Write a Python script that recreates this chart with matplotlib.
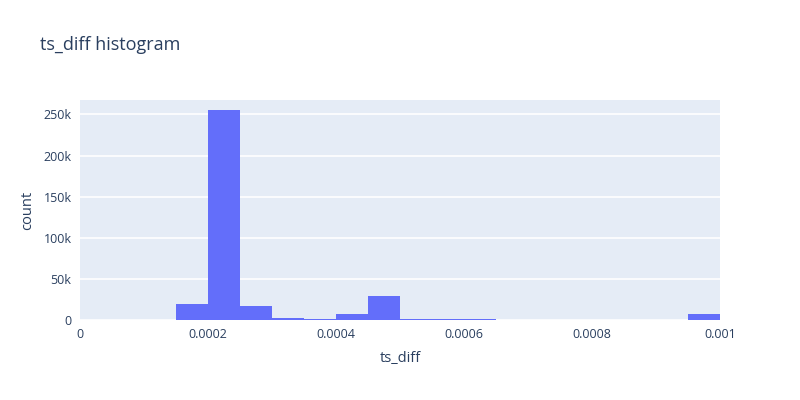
import numpy as np
import matplotlib.pyplot as plt
from matplotlib.ticker import FuncFormatter

# histogram bins (ts_diff) and counts
bin_edges = [i * 0.00005 for i in range(21)]
counts = [0, 0, 500, 20000, 255000, 17500, 2900, 1600, 7800, 28600,
          1500, 1500, 1400, 500, 500, 500, 500, 500, 500, 7800]

x_ticks = [0, 0.0002, 0.0004, 0.0006, 0.0008, 0.001]
x_labels = ["0", "0.0002", "0.0004", "0.0006", "0.0008", "0.001"]
y_ticks = [0, 50000, 100000, 150000, 200000, 250000]

font_col = "#2a3f5f"
plt.rcParams['font.family'] = ['Open Sans', 'DejaVu Sans']

fig = plt.figure(figsize=(8, 4), dpi=100)
ax = fig.add_axes([0.1, 0.2, 0.8, 0.55])
ax.set_facecolor("#E5ECF6")

centers = [(bin_edges[i] + bin_edges[i + 1]) / 2 for i in range(len(counts))]
ax.hist(centers, bins=bin_edges, weights=counts, color="#636EFA",
        linewidth=0, zorder=3)

ax.set_xlim(0, 0.001)
ax.set_ylim(0, 267500)
ax.set_xticks(x_ticks)
ax.set_xticklabels(x_labels)
ax.set_yticks(y_ticks)
ax.yaxis.set_major_formatter(FuncFormatter(lambda v, p: "0" if v == 0 else f"{int(v/1000)}k"))
ax.grid(axis='y', color='white', linewidth=1.2, zorder=0)
ax.set_axisbelow(True)
for s in ax.spines.values():
    s.set_visible(False)
ax.tick_params(length=0, labelsize=9, colors=font_col, pad=6)

ax.set_xlabel("ts_diff", fontsize=10.5, color=font_col, labelpad=7)
ax.set_ylabel("count", fontsize=10.5, color=font_col, labelpad=6)
fig.text(0.05, 0.887, "ts_diff histogram", fontsize=13, color=font_col, va='center')

fig.savefig("out.png", dpi=100)
